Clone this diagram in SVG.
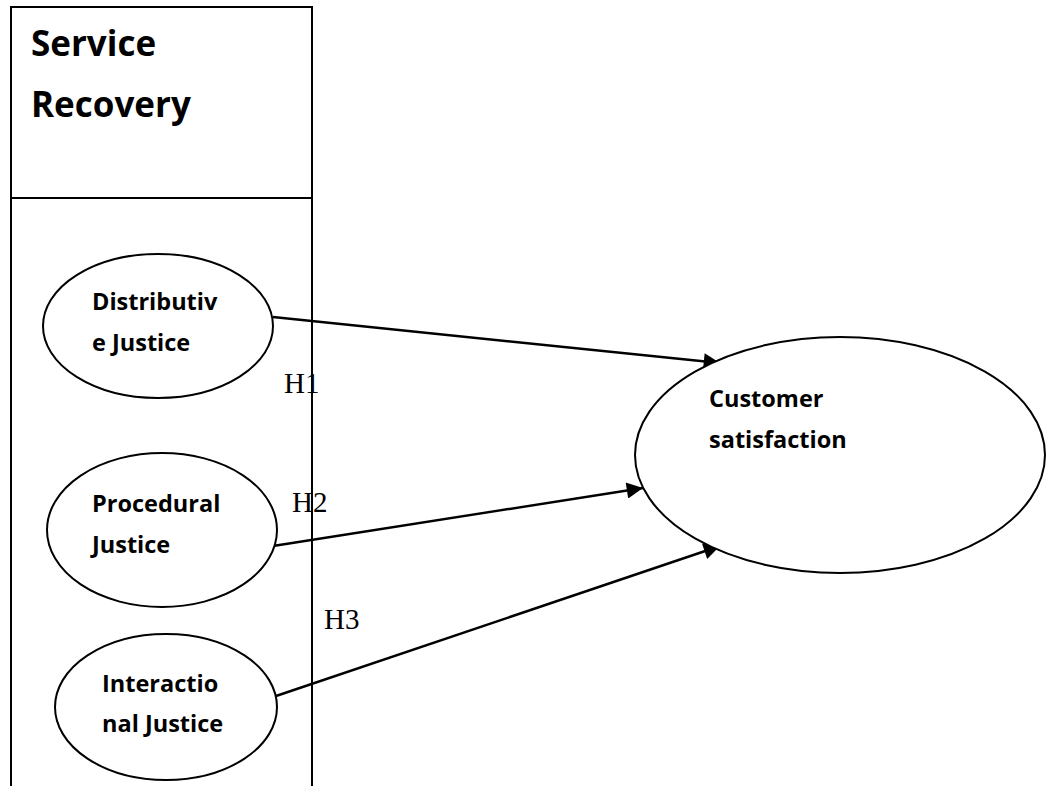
<svg xmlns="http://www.w3.org/2000/svg" width="1047" height="786" viewBox="0 0 1047 786">
<defs>
<style>
.box{fill:none;stroke:#000;stroke-width:2}
.node{fill:#fff;stroke:#000;stroke-width:2}
.lbl{font-family:"Open Sans","Liberation Sans",sans-serif;font-weight:bold;font-size:23.5px;fill:#000}
.title{font-family:"Open Sans","Liberation Sans",sans-serif;font-weight:bold;font-size:35px;fill:#000}
.h{font-family:"Liberation Serif","Times New Roman",serif;font-size:29px;fill:#000}
.edge{stroke:#000;stroke-width:2.5;fill:none;marker-end:url(#arr)}
</style>
<marker id="arr" viewBox="0 0 10 10" refX="10" refY="5" markerWidth="8" markerHeight="6.5" markerUnits="strokeWidth" orient="auto">
<path d="M0,0 L10,5 L0,10 z" fill="#000"/>
</marker>
</defs>
<rect width="1047" height="786" fill="#fff"/>
<g id="service-recovery">
<path class="box" d="M11,800 L11,7 L312,7 L312,800 M11,198 L312,198"/>
<text class="title" x="31" y="56">Service</text>
<text class="title" x="31" y="117">Recovery</text>
</g>
<g id="connectors">
<line class="edge" x1="273" y1="317" x2="720" y2="363"/>
<line class="edge" x1="273" y1="546" x2="643" y2="488"/>
<line class="edge" x1="276" y1="696" x2="720" y2="546"/>
</g>
<g id="distributive">
<ellipse class="node" cx="158" cy="326" rx="115" ry="72"/>
<text class="lbl" x="92" y="310">Distributiv</text>
<text class="lbl" x="92" y="351">e Justice</text>
</g>
<g id="procedural">
<ellipse class="node" cx="162" cy="530" rx="115" ry="77"/>
<text class="lbl" x="92" y="512">Procedural</text>
<text class="lbl" x="92" y="553">Justice</text>
</g>
<g id="interactional">
<ellipse class="node" cx="166" cy="707" rx="111" ry="73"/>
<text class="lbl" x="102" y="692">Interactio</text>
<text class="lbl" x="102" y="732">nal Justice</text>
</g>
<g id="customer-satisfaction">
<ellipse class="node" cx="840" cy="455" rx="205" ry="118"/>
<text class="lbl" x="709" y="407">Customer</text>
<text class="lbl" x="709" y="448">satisfaction</text>
</g>
<g id="labels">
<text class="h" x="284" y="393">H1</text>
<text class="h" x="292" y="512">H2</text>
<text class="h" x="324" y="629">H3</text>
</g>
</svg>
